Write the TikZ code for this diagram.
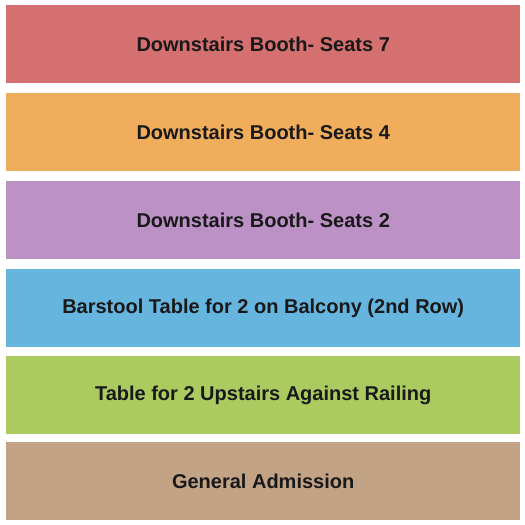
\documentclass[tikz,border=0pt]{standalone}
\usepackage{fontspec}
\setmainfont{Liberation Sans}
\begin{document}
\begin{tikzpicture}[x=1pt,y=-1pt,
  band/.style={draw=none,inner sep=0pt,minimum width=514pt,minimum height=78pt,anchor=north west,text=black!90,font=\bfseries\fontsize{20}{24}\selectfont}]
\useasboundingbox (0,0) rectangle (525,525);
\definecolor{cred}{HTML}{D4706F}
\definecolor{corange}{HTML}{F0AD5C}
\definecolor{cpurple}{HTML}{BC92C6}
\definecolor{cblue}{HTML}{65B5DF}
\definecolor{cgreen}{HTML}{ABCB60}
\definecolor{ctan}{HTML}{C2A386}
\node[band,fill=cred] (b1) at (6,5) {Downstairs Booth- Seats 7};
\node[band,fill=corange] (b2) at (6,93) {Downstairs Booth- Seats 4};
\node[band,fill=cpurple] (b3) at (6,181) {Downstairs Booth- Seats 2};
\node[band,fill=cblue] (b4) at (6,269) {Barstool Table for 2 on Balcony (2nd Row)};
\node[band,fill=cgreen] (b5) at (6,356) {Table for 2 Upstairs Against Railing};
\node[band,fill=ctan] (b6) at (6,442) {General Admission};
\end{tikzpicture}
\end{document}
